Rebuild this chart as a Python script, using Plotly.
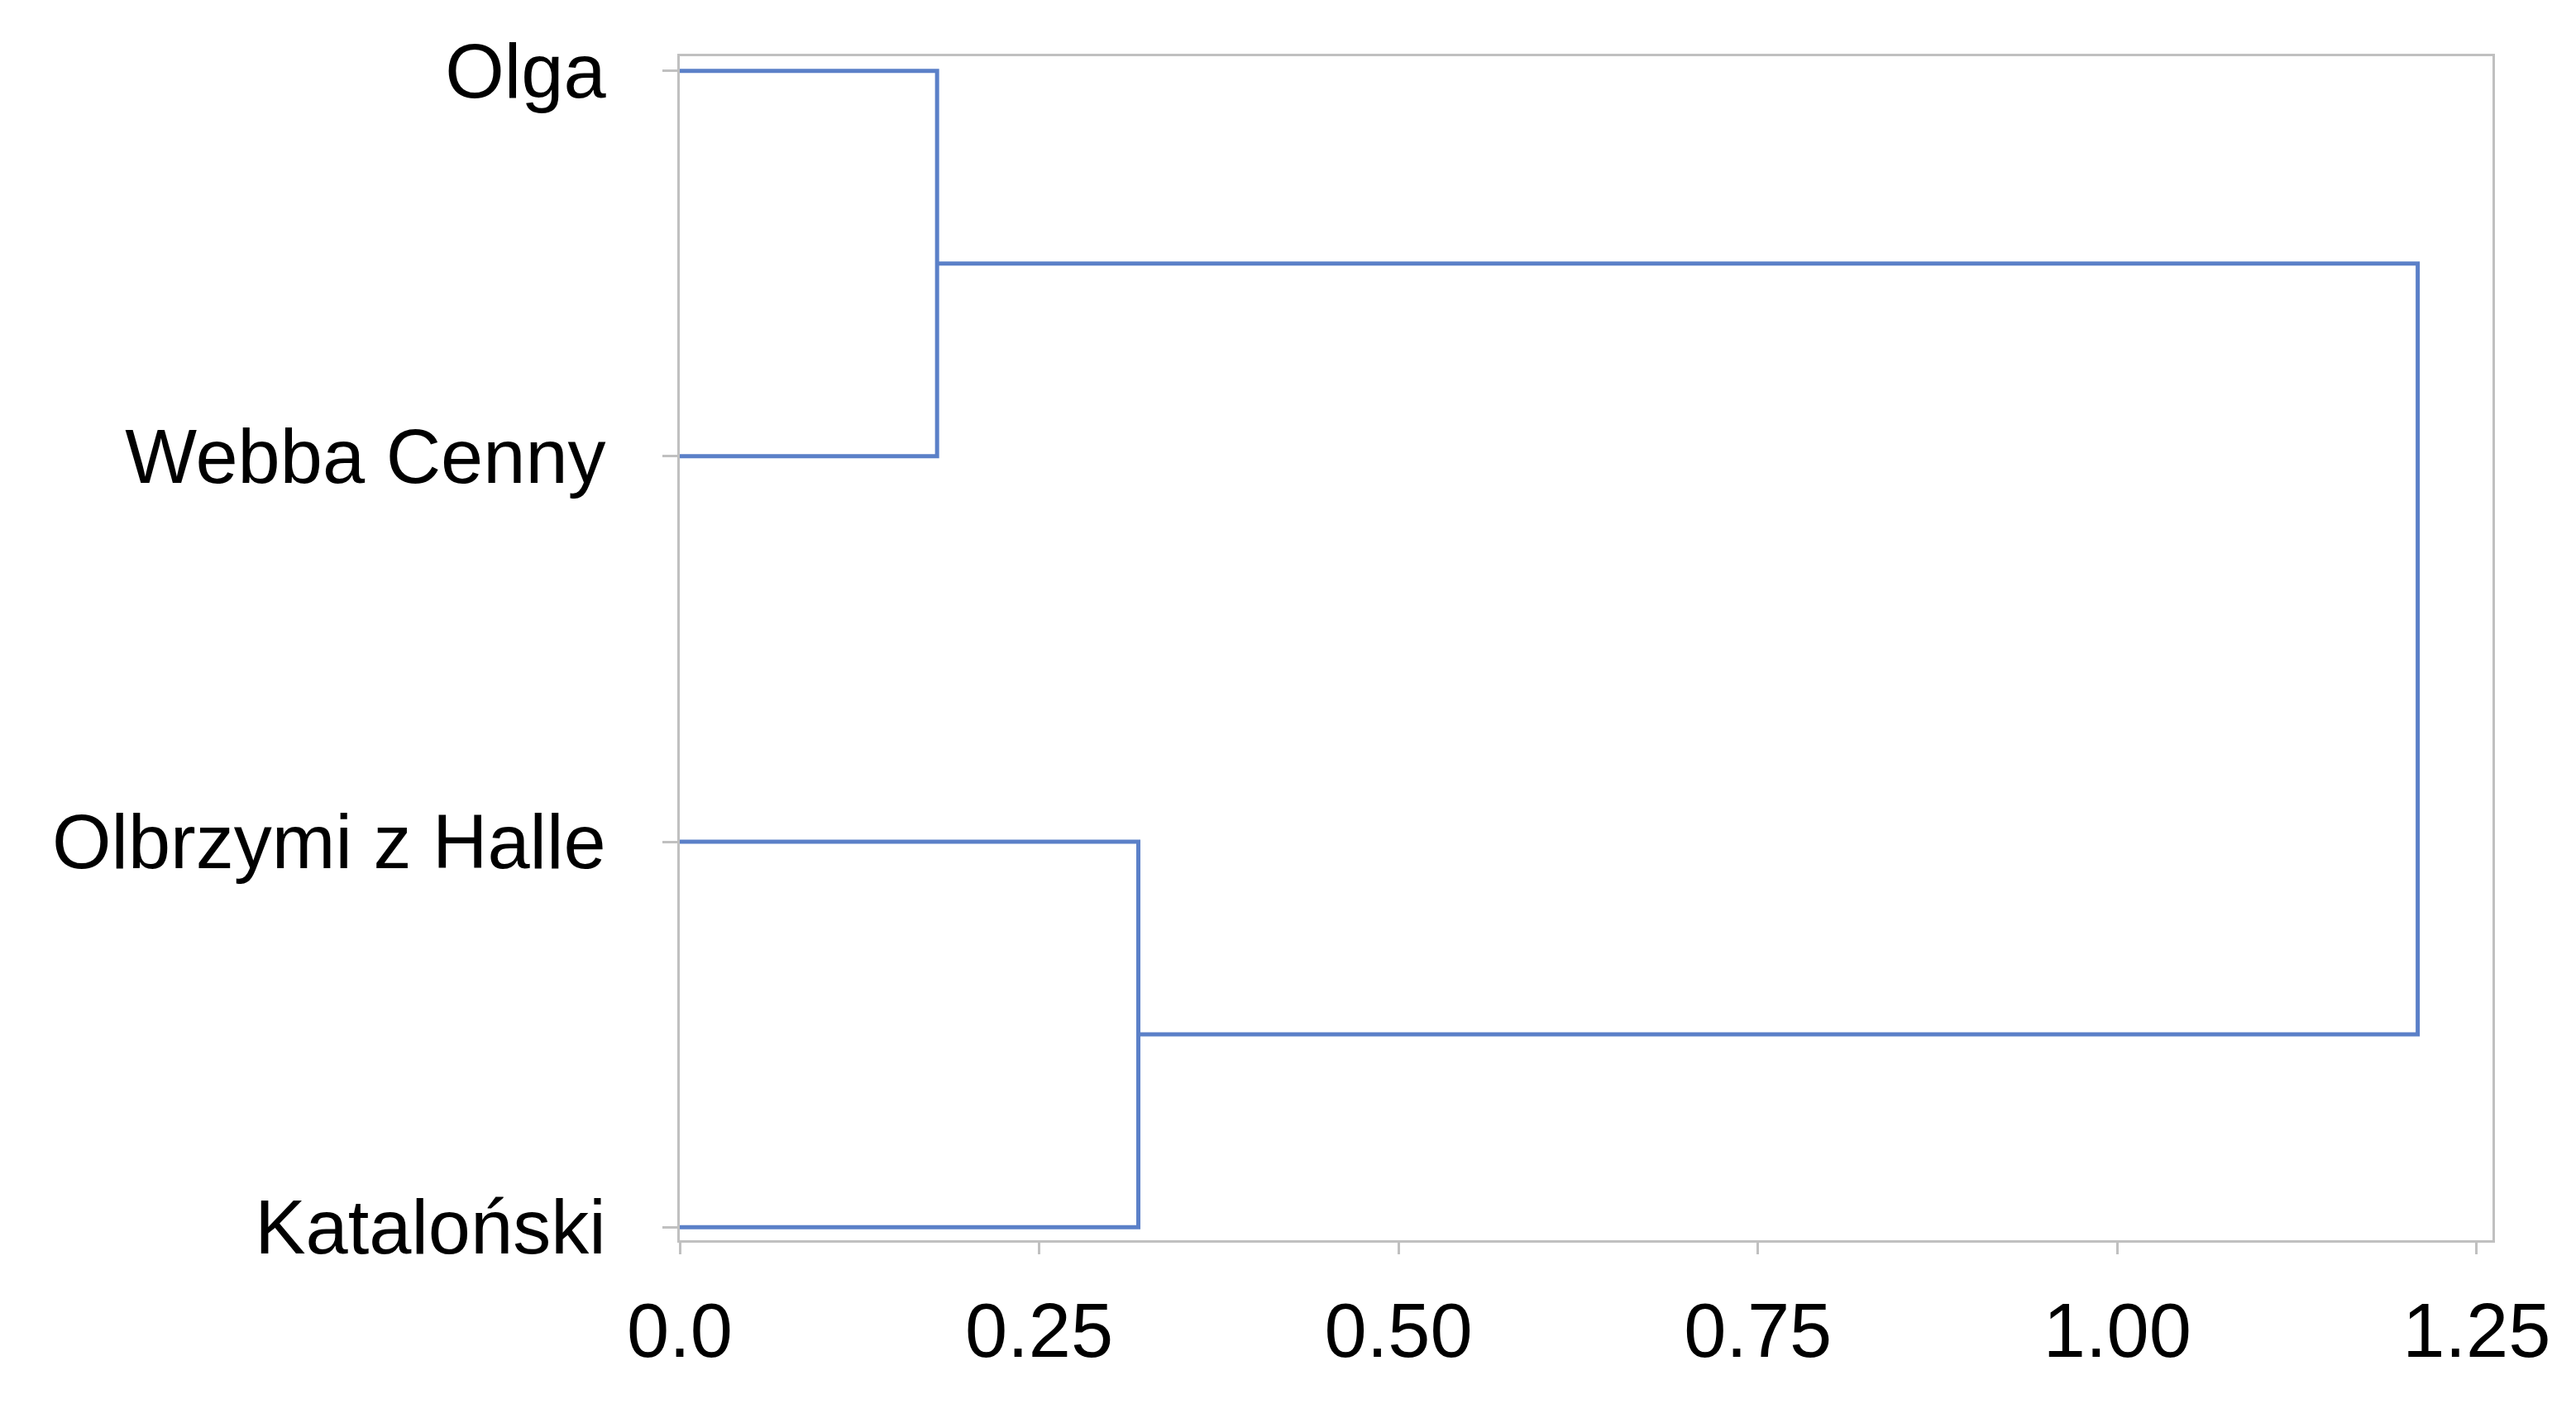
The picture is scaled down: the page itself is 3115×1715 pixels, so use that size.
import plotly.graph_objects as go

# leaves, bottom to top
leaves = ['Kataloński', 'Olbrzymi z Halle', 'Webba Cenny', 'Olga']
leaf_pos = [0, 1, 2, 3]
# merges: (left node y, right node y, height of left child, height of right child, merge height)
merge_a = [3, 2, 0.0, 0.0, 0.179]     # Olga + Webba Cenny
merge_b = [1, 0, 0.0, 0.0, 0.319]     # Olbrzymi + Kataloński
merge_c = [2.5, 0.5, 0.179, 0.319, 1.209]  # final
merges = [merge_a, merge_b, merge_c]

x_ticks = [0.0, 0.25, 0.5, 0.75, 1.0, 1.25]
x_labels = ['0.0', '0.25', '0.50', '0.75', '1.00', '1.25']

LINE = '#5b80c8'

fig = go.Figure()
for y1, y2, h1, h2, h in merges:
    fig.add_trace(go.Scatter(x=[h1, h, h, h2], y=[y1, y1, y2, y2], mode='lines',
                             line=dict(color=LINE, width=5), showlegend=False,
                             hoverinfo='skip'))

fig.update_layout(
    width=3115, height=1715,
    plot_bgcolor='white', paper_bgcolor='white',
    margin=dict(l=814, r=109, t=60, b=223),
    font=dict(family='Liberation Sans, Arial', size=92, color='black'),
)
fig.update_xaxes(range=[0, 1.261], tickvals=x_ticks, ticktext=x_labels,
                 showgrid=False, zeroline=False, showline=True, linecolor='#c0c0c0',
                 linewidth=3, mirror=True, ticks='outside', ticklen=14,
                 tickcolor='#c0c0c0', tickwidth=3, ticklabelstandoff=14)
fig.update_yaxes(range=[-0.034, 3.038], tickvals=leaf_pos, ticktext=leaves,
                 showgrid=False, zeroline=False, showline=True, linecolor='#c0c0c0',
                 linewidth=3, mirror=True, ticks='outside', ticklen=18,
                 tickcolor='#c0c0c0', tickwidth=3, ticklabelstandoff=50)

fig.write_html("out.html")
